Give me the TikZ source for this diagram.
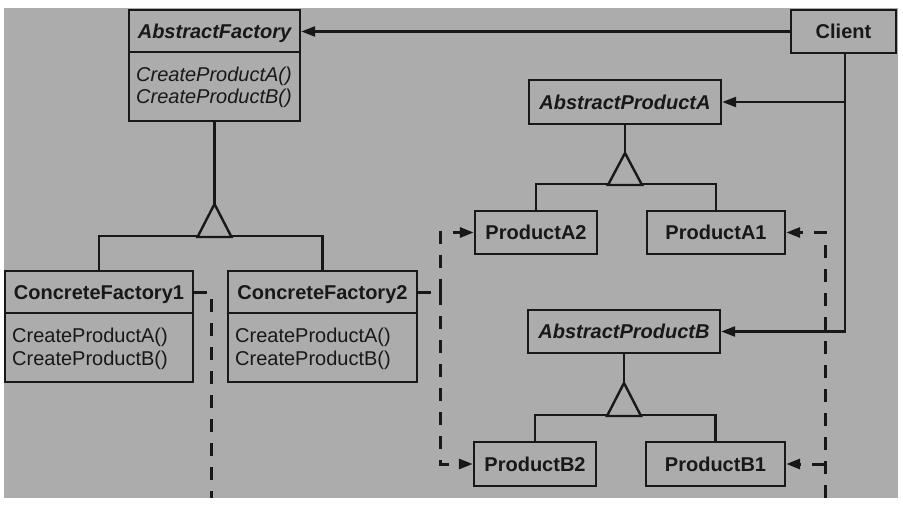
\documentclass[tikz,border=0pt]{standalone}
\usepackage{fontspec}
\setmainfont{Liberation Sans}
\usetikzlibrary{arrows.meta}
\definecolor{paper}{RGB}{172,172,172}
\definecolor{ink}{RGB}{24,24,24}
\begin{document}
\begin{tikzpicture}[x=1pt,y=-1pt,
  cls/.style={draw=ink, line width=2.4pt, rectangle, inner sep=0pt,
    text height=14.3pt, text depth=0pt, text=ink,
    font=\fontsize{20}{24}\selectfont\bfseries},
  body/.style={draw=ink, line width=2.4pt, rectangle, inner sep=0pt},
  meth/.style={inner sep=0pt, text=ink, anchor=base west,
    font=\fontsize{20}{24}\selectfont},
  ln/.style={draw=ink, line width=2.4pt},
  dsh/.style={draw=ink, line width=3pt, dash pattern=on 13pt off 11pt},
  arr/.style={-{Triangle[length=14pt,width=10pt]}},
  tri/.style={draw=ink, line width=2.4pt, fill=paper, line join=miter}]
\useasboundingbox (0,0) rectangle (903,508);
\fill[white] (0,0) rectangle (903,508);
\fill[paper] (4,8) rectangle (898,498);

% AbstractFactory
\node[cls, minimum width=171pt, minimum height=42pt] (afh) at (214.5,31) {\itshape AbstractFactory};
\node[body, minimum width=171pt, minimum height=69pt] (afb) at (214.5,86.5) {};
\node[meth] (afm1) at (136,82) {\itshape CreateProductA()};
\node[meth] (afm2) at (136,104) {\itshape CreateProductB()};

% ConcreteFactory1
\node[cls, minimum width=188pt, minimum height=42pt] (cf1h) at (99,292) {ConcreteFactory1};
\node[body, minimum width=188pt, minimum height=69pt] (cf1b) at (99,347.5) {};
\node[meth] (cf1m1) at (12,342) {CreateProductA()};
\node[meth] (cf1m2) at (12,365) {CreateProductB()};

% ConcreteFactory2
\node[cls, minimum width=189pt, minimum height=42pt] (cf2h) at (322.5,292) {ConcreteFactory2};
\node[body, minimum width=189pt, minimum height=69pt] (cf2b) at (322.5,347.5) {};
\node[meth] (cf2m1) at (235,342) {CreateProductA()};
\node[meth] (cf2m2) at (235,365) {CreateProductB()};

% Client and products
\node[cls, minimum width=105pt, minimum height=43pt] (client) at (843.5,31.5) {Client};
\node[cls, minimum width=192pt, minimum height=44pt] (apa) at (625,102) {\itshape AbstractProductA};
\node[cls, minimum width=122pt, minimum height=43pt] (pa2) at (536,232.5) {ProductA2};
\node[cls, minimum width=138pt, minimum height=43pt] (pa1) at (716,232.5) {ProductA1};
\node[cls, minimum width=192pt, minimum height=43pt] (apb) at (624,331.5) {\itshape AbstractProductB};
\node[cls, minimum width=122pt, minimum height=44pt] (pb2) at (535,464) {ProductB2};
\node[cls, minimum width=139pt, minimum height=44pt] (pb1) at (715.5,464) {ProductB1};

% inheritance: AbstractFactory
\coordinate (t1) at (214.5,204);
\draw[ln] (afb.south) -- (t1);
\draw[ln] (cf1h.north) -- ++(0,-34) -| (cf2h.north);
\draw[tri] (t1) -- (197.5,237) -- (231.5,237) -- cycle;

% inheritance: AbstractProductA
\coordinate (t2) at (625,153);
\draw[ln] (apa.south) -- (t2);
\draw[ln] (pa2.north) -- ++(0,-26) -| (pa1.north);
\draw[tri] (t2) -- (608,185) -- (642,185) -- cycle;

% inheritance: AbstractProductB
\coordinate (t3) at (624,383);
\draw[ln] (apb.south) -- (t3);
\draw[ln] (pb2.north) -- ++(0,-26) -| (pb1.north);
\draw[tri] (t3) -- (607,416) -- (641,416) -- cycle;

% Client associations
\draw[ln, arr] (client.west) -- (client.west -| afh.east);
\coordinate (cv) at (845,331.5);
\draw[ln, arr] (client.south -| cv) |- (apb.east);
\draw[ln, arr] (cv |- apa.east) -- (apa.east);

% dashed creation lines
\coordinate (d1) at (211,498);
\draw[dsh] (cf1h.east) -| (d1);
\coordinate (d2) at (440,292);
\draw[dsh] (cf2h.east) -- (d2);
\draw[dsh, arr] (d2) |- (pa2.west);
\draw[dsh, arr] (d2) |- (pb2.west);
\coordinate (d3) at (825,498);
\draw[dsh, arr] (d3) |- (pa1.east);
\draw[dsh, arr] (d3 |- pb1.east) -- (pb1.east);
\end{tikzpicture}
\end{document}
